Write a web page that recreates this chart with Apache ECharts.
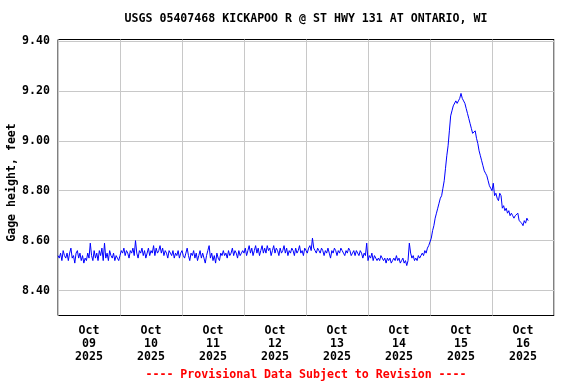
<!DOCTYPE html>
<html><head><meta charset="utf-8">
<script src="https://cdn.jsdelivr.net/npm/echarts@6/dist/echarts.min.js"></script>
<style>html,body{margin:0;padding:0;background:#fff}#c{width:576px;height:384px}</style>
</head><body><div id="c"></div>
<script>
// Gage height (feet), one value every 30 minutes, starting at each day's 00:00
const stepHours = 0.5;
const oct09 = [8.54,8.53,8.55,8.52,8.56,8.54,8.53,8.55, 8.52,8.55,8.57,8.53,8.54,8.51,8.55,8.56,
               8.53,8.55,8.52,8.54,8.51,8.53,8.52,8.55, 8.53,8.59,8.54,8.52,8.56,8.53,8.55,8.52,
               8.56,8.54,8.57,8.52,8.59,8.53,8.55,8.52, 8.56,8.54,8.53,8.55,8.52,8.54,8.53,8.52];
const oct10 = [8.54,8.56,8.55,8.57,8.54,8.56,8.55,8.53, 8.56,8.55,8.57,8.54,8.60,8.55,8.53,8.56,
               8.55,8.57,8.54,8.56,8.53,8.55,8.57,8.54, 8.56,8.55,8.58,8.54,8.57,8.55,8.56,8.58,
               8.55,8.57,8.54,8.56,8.55,8.53,8.56,8.55, 8.54,8.56,8.53,8.55,8.54,8.56,8.53,8.55];
const oct11 = [8.56,8.54,8.53,8.55,8.57,8.54,8.52,8.55, 8.54,8.56,8.53,8.55,8.52,8.54,8.56,8.53,
               8.55,8.53,8.51,8.54,8.56,8.58,8.53,8.55, 8.52,8.54,8.51,8.55,8.53,8.52,8.55,8.54,
               8.56,8.54,8.55,8.53,8.56,8.54,8.55,8.57, 8.54,8.56,8.55,8.53,8.56,8.54,8.55,8.56];
const oct12 = [8.55,8.57,8.54,8.56,8.58,8.55,8.57,8.54, 8.56,8.58,8.55,8.57,8.54,8.56,8.58,8.55,
               8.57,8.55,8.58,8.56,8.57,8.54,8.56,8.58, 8.55,8.57,8.56,8.54,8.57,8.55,8.56,8.58,
               8.55,8.57,8.54,8.56,8.55,8.57,8.56,8.54, 8.57,8.55,8.56,8.58,8.55,8.56,8.54,8.57];
const oct13 = [8.56,8.55,8.57,8.58,8.56,8.61,8.57,8.56, 8.55,8.57,8.56,8.55,8.57,8.56,8.54,8.56,
               8.55,8.57,8.55,8.53,8.56,8.55,8.57,8.56, 8.54,8.56,8.55,8.57,8.56,8.55,8.54,8.56,
               8.55,8.57,8.56,8.54,8.55,8.56,8.54,8.56, 8.55,8.54,8.56,8.55,8.53,8.55,8.54,8.59];
const oct14 = [8.52,8.54,8.53,8.55,8.52,8.54,8.53,8.52, 8.53,8.52,8.54,8.53,8.52,8.53,8.51,8.53,
               8.52,8.53,8.51,8.52,8.53,8.52,8.54,8.52, 8.53,8.51,8.52,8.53,8.51,8.52,8.50,8.52,
               8.59,8.55,8.53,8.54,8.52,8.53,8.52,8.54, 8.53,8.54,8.55,8.54,8.56,8.55,8.57,8.58];
const oct15 = [8.58,8.61,8.64,8.66,8.69,8.71,8.73,8.75, 8.77,8.78,8.81,8.84,8.89,8.94,8.98,9.04,
               9.10,9.12,9.14,9.14,9.16,9.15,9.16,9.17, 9.19,9.17,9.16,9.15,9.13,9.11,9.09,9.07,
               9.05,9.03,9.03,9.04,9.01,8.99,8.96,8.94, 8.92,8.90,8.88,8.87,8.86,8.84,8.82,8.81];
const oct16 = [8.80,8.83,8.78,8.79,8.77,8.76,8.79,8.78, 8.73,8.74,8.72,8.73,8.71,8.72,8.70,8.71,
               8.70,8.69,8.70,8.70,8.71,8.68,8.68,8.67, 8.66,8.68,8.67,8.69,8.68];
const days = [oct09, oct10, oct11, oct12, oct13, oct14, oct15, oct16];
const dayLabels = ['Oct\n09\n2025','Oct\n10\n2025','Oct\n11\n2025','Oct\n12\n2025',
                   'Oct\n13\n2025','Oct\n14\n2025','Oct\n15\n2025','Oct\n16\n2025'];
const yTickLabels = ['8.40','8.60','8.80','9.00','9.20','9.40'];
const titleText = 'USGS 05407468 KICKAPOO R @ ST HWY 131 AT ONTARIO, WI';
const footerText = '---- Provisional Data Subject to Revision ----';
const yName = 'Gage height, feet';

const data = [];
days.forEach((arr, d) => arr.forEach((v, i) => data.push([d * 24 + i * stepHours, v])));

const FONT = '"DejaVu Sans Mono", "Liberation Mono", monospace';
const chart = echarts.init(document.getElementById('c'), null, {renderer: 'canvas'});
chart.setOption({
  animation: false,
  backgroundColor: '#ffffff',
  title: [
    {text: titleText, left: 306, top: 13, textAlign: 'center', padding: 0,
     textStyle: {fontFamily: FONT, fontSize: 11.6, fontWeight: 'bold', color: '#000'}},
    {text: footerText, left: 306, top: 369, textAlign: 'center', padding: 0,
     textStyle: {fontFamily: FONT, fontSize: 11.6, fontWeight: 'bold', color: '#ff0000'}}
  ],
  grid: {left: 58, right: 22, top: 39.5, bottom: 68.5, show: true, containLabel: false,
         outerBoundsMode: 'none',
         borderColor: '#000', borderWidth: 1, backgroundColor: 'transparent'},
  xAxis: {
    type: 'value', min: 0, max: 192, interval: 12,
    axisLine: {show: false}, axisTick: {show: false},
    splitLine: {show: true, lineStyle: {color: ['#c8c8c8', 'rgba(0,0,0,0)'], width: 1}},
    axisLabel: {
      margin: 9, lineHeight: 13, fontFamily: FONT, fontSize: 11.6, fontWeight: 'bold', color: '#000',
      showMinLabel: true, showMaxLabel: true,
      formatter: v => (Math.round(v) % 24 === 12 ? dayLabels[(Math.round(v) - 12) / 24] : '')
    }
  },
  yAxis: {
    type: 'value', min: 8.3, max: 9.406, interval: 0.1,
    name: yName, nameLocation: 'middle', nameGap: 40, nameRotate: 90, nameMoveOverlap: false,
    nameTextStyle: {fontFamily: FONT, fontSize: 11.6, fontWeight: 'bold', color: '#000',
                    padding: [0, 10, 0, 0]},
    axisLine: {show: false}, axisTick: {show: false},
    splitLine: {show: true, lineStyle: {color: ['rgba(0,0,0,0)', '#c8c8c8'], width: 1}},
    axisLabel: {
      margin: 8, fontFamily: FONT, fontSize: 11.6, fontWeight: 'bold', color: '#000',
      showMinLabel: true, showMaxLabel: true,
      formatter: v => {
        const k = Math.round(v * 10);
        if (Math.abs(v * 10 - k) > 0.01 || k % 2 !== 0) return '';
        const idx = (k - 84) / 2;
        return yTickLabels[idx] || '';
      }
    }
  },
  series: [{
    type: 'line', data: data, showSymbol: false, symbol: 'none',
    lineStyle: {color: '#0000ff', width: 1}, clip: true
  }]
});
</script></body></html>
